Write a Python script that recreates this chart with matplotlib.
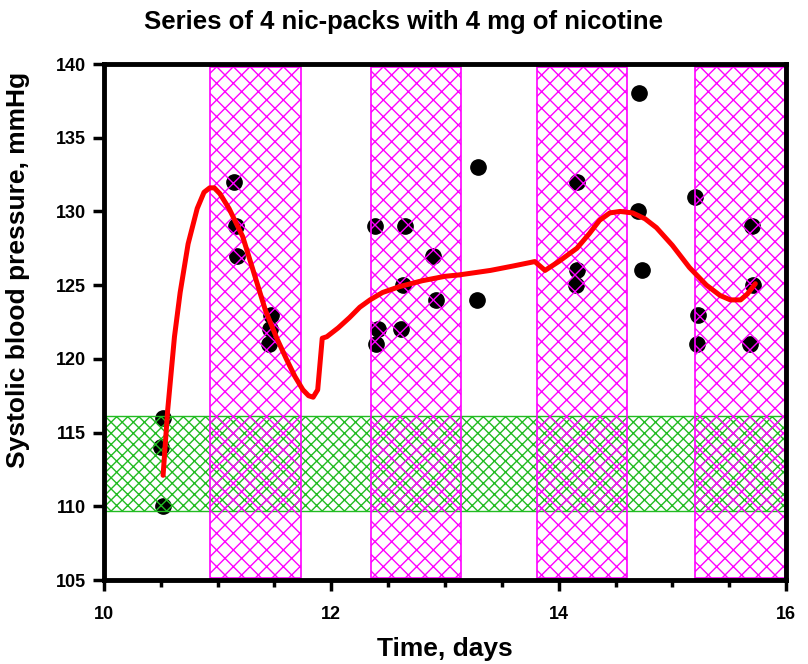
import matplotlib.pyplot as plt
import numpy as np
from matplotlib.ticker import MultipleLocator

plt.rcParams['font.family'] = ['Liberation Sans', 'DejaVu Sans']
plt.rcParams['hatch.linewidth'] = 1.0

# measured systolic pressure, mmHg
day = [10.52, 10.50, 10.52,
       11.14, 11.16, 11.17, 11.47, 11.46, 11.45,
       12.38, 12.65, 12.89, 12.63, 12.92, 12.41, 12.61, 12.39, 13.29, 13.28,
       14.16, 14.16, 14.15, 14.71, 14.70, 14.73,
       15.20, 15.23, 15.22, 15.70, 15.71, 15.68]
sbp = [116, 114, 110,
       132, 129, 127, 123, 122, 121,
       129, 129, 127, 125, 124, 122, 122, 121, 133, 124,
       132, 126, 125, 138, 130, 126,
       131, 123, 121, 129, 125, 121]

# smoothed trend
trend_day = [10.52, 10.56, 10.62, 10.67, 10.74, 10.82, 10.88, 10.93, 10.97, 11.02,
             11.10, 11.22, 11.32, 11.42, 11.52, 11.61, 11.68, 11.75, 11.80, 11.84,
             11.88, 11.92, 11.96, 12.06, 12.16, 12.25, 12.34, 12.45, 12.60, 12.80,
             13.00, 13.13, 13.40, 13.60, 13.79, 13.88, 14.00, 14.16, 14.27, 14.36,
             14.45, 14.54, 14.65, 14.76, 14.86, 15.00, 15.15, 15.30, 15.42, 15.51,
             15.60, 15.66, 15.73]
trend_sbp = [112.1, 116.5, 121.5, 124.5, 127.8, 130.2, 131.3, 131.6, 131.6, 131.2,
             130.2, 128.3, 125.8, 123.3, 121.4, 119.9, 118.8, 117.9, 117.5, 117.4,
             117.9, 121.4, 121.5, 122.1, 122.8, 123.5, 124.0, 124.5, 124.9, 125.3,
             125.6, 125.7, 126.0, 126.3, 126.6, 126.0, 126.6, 127.5, 128.5, 129.4,
             129.9, 130.0, 129.9, 129.5, 128.9, 127.7, 126.2, 125.0, 124.3, 124.0,
             124.0, 124.4, 125.1]

# nic-pack periods and normal range
pack_start = [10.93, 12.35, 13.81, 15.20]
pack_end = [11.73, 13.14, 14.60, 15.99]
norm_low, norm_high = 109.7, 116.1

fig = plt.figure(figsize=(8.08, 6.64), dpi=100)
ax = fig.add_axes([0.1287, 0.1265, 0.8441, 0.7771])

ax.plot(day, sbp, 'o', color='black', ms=11, zorder=2)

ax.axhspan(norm_low, norm_high, facecolor='none', edgecolor='#22bb22',
           hatch='xxx', lw=1.0, zorder=3)
for a, b in zip(pack_start, pack_end):
    ax.axvspan(a, b, ymin=0.003, ymax=0.995, facecolor='none', edgecolor='#ff00ff',
               hatch='xx', lw=1.2, zorder=4)

ax.plot(trend_day, trend_sbp, color='red', lw=3.6, zorder=5,
        solid_capstyle='round', solid_joinstyle='round')

ax.set_xlim(10, 16)
ax.set_ylim(105, 140)
ax.xaxis.set_major_locator(MultipleLocator(2))
ax.xaxis.set_minor_locator(MultipleLocator(0.5))
ax.yaxis.set_major_locator(MultipleLocator(5))
ax.tick_params(axis='both', which='major', direction='out', length=8, width=2.5,
               labelsize=13, colors='black', pad=5)
ax.tick_params(axis='x', which='major', pad=11)
ax.tick_params(axis='x', which='minor', direction='out', length=5, width=2.5)
for lab in ax.get_xticklabels() + ax.get_yticklabels():
    lab.set_fontweight('bold')
for s in ax.spines.values():
    s.set_linewidth(3.5)
    s.set_zorder(6)

fig.suptitle('Series of 4 nic-packs with 4 mg of nicotine', fontsize=18.5,
             fontweight='bold', x=0.5, y=0.967, va='center')
ax.set_xlabel('Time, days', fontsize=19, fontweight='bold', labelpad=10)
ax.set_ylabel('Systolic blood pressure, mmHg', fontsize=19, fontweight='bold')
ax.yaxis.set_label_coords(-0.108, 0.60)

fig.savefig('out.png', dpi=100)
